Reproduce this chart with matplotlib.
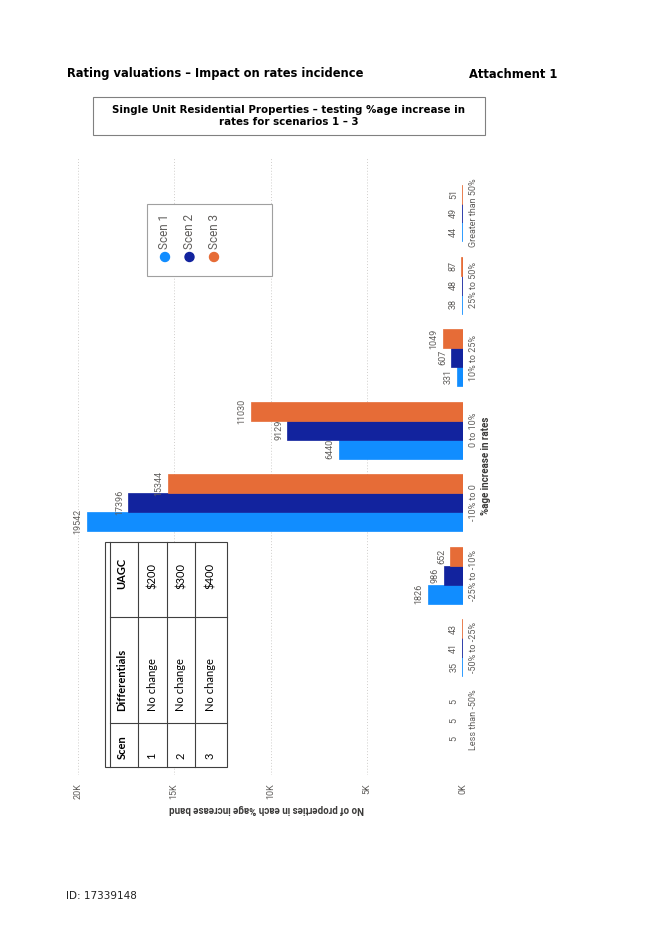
import numpy as np
import matplotlib
matplotlib.use('Agg')
import matplotlib.pyplot as plt
from matplotlib.patches import Rectangle, Circle

# Datos del grafico
categories = ['Less than -50%', '-50% to -25%', '-25% to -10%', '-10% to 0',
              '0 to 10%', '10% to 25%', '25% to 50%', 'Greater than 50%']
scen1 = [5, 35, 1826, 19542, 6440, 331, 38, 44]
scen2 = [5, 41, 986, 17396, 9129, 607, 48, 49]
scen3 = [5, 43, 652, 15344, 11030, 1049, 87, 51]
series_names = ['Scen 1', 'Scen 2', 'Scen 3']
series_colors = ['#118DFF', '#12239E', '#E66C37']
x_ticks = [0, 5000, 10000, 15000, 20000]
x_tick_labels = ['0K', '5K', '10K', '15K', '20K']

table_header = ['Scen', 'Differentials', 'UAGC']
table_scen = ['1', '2', '3']
table_diff = ['No change', 'No change', 'No change']
table_uagc = ['$200', '$300', '$400']

W, H = 645, 926
fig = plt.figure(figsize=(W / 100, H / 100), dpi=100, facecolor='white')

# ejes principales (grafico de barras rotado)
L, R, T, B = 70, 463, 157, 775
ax = fig.add_axes([L / W, 1 - B / H, (R - L) / W, (B - T) / H])
px_per_unit = 385 / 20000
ax.set_xlim((R - L) / px_per_unit, 0)
cat_step = 72.43
ax.set_ylim(-(B - 720) / cat_step, 7 + (213 - T) / cat_step)

lab_font = 'Roboto'
gray = '#605E5C'
bh = 0.262
y = np.arange(len(categories))
for i, (vals, col) in enumerate(zip([scen1, scen2, scen3], series_colors)):
    pos = y + (i - 1) * bh
    ax.barh(pos, vals, height=bh, color=col, edgecolor=col, linewidth=0.5, zorder=3)
    for p, v in zip(pos, vals):
        ax.annotate(str(v), xy=(v, p), xytext=(-3, 0), textcoords='offset points',
                    rotation=90, ha='right', va='center', fontsize=6.5,
                    color=gray, family=lab_font)

for s in ax.spines.values():
    s.set_visible(False)
ax.set_xticks(x_ticks)
ax.set_xticklabels(x_tick_labels, rotation=90, fontsize=6.5, color=gray, family=lab_font)
ax.tick_params(axis='x', length=0, pad=6)
ax.grid(axis='x', linestyle=(0, (1, 2)), color='#D0CECC', linewidth=0.7, zorder=0)

ax.yaxis.tick_right()
ax.set_yticks(y)
ax.set_yticklabels(categories, rotation=90, va='center', ha='left',
                   fontsize=6.5, color=gray, family=lab_font)
ax.tick_params(axis='y', length=0, pad=4)

# capa superior en coordenadas de pixel para textos, leyenda y tabla
ov = fig.add_axes([0, 0, 1, 1], zorder=5)
ov.set_xlim(0, W)
ov.set_ylim(H, 0)
ov.axis('off')

ov.text(67, 74, 'Rating valuations \u2013 Impact on rates incidence', fontsize=8.3,
        fontweight='bold', va='center', ha='left', color='black')
ov.text(557, 74, 'Attachment 1', fontsize=8.3, fontweight='bold', va='center',
        ha='right', color='black')
ov.add_patch(Rectangle((93, 97), 392, 38, fill=False, edgecolor='#808080', lw=0.8))
ov.text(289, 116, 'Single Unit Residential Properties \u2013 testing %age increase in\nrates for scenarios 1 \u2013 3',
        fontsize=7.4, fontweight='bold', ha='center', va='center', linespacing=1.25,
        color='black')

ov.text(486, (T + B) / 2, '%age increase in rates', rotation=90, fontsize=7,
        fontweight='bold', ha='center', va='center', color='#3B3A39', family=lab_font)
ov.text(267, 809, 'No of properties in each %age increase band', rotation=180,
        fontsize=7, fontweight='bold', ha='center', va='center', color='#3B3A39',
        family=lab_font)

# leyenda
ov.add_patch(Rectangle((147, 204), 125, 72, facecolor='white', edgecolor='#A0A0A0', lw=0.8))
for k, (name, col) in enumerate(zip(series_names, series_colors)):
    xc = 165 + 24.5 * k
    ov.add_patch(Circle((xc, 257), 4.5, color=col))
    ov.text(xc, 249, name, rotation=90, ha='center', va='bottom', fontsize=8.5,
            color=gray, family=lab_font)

# tabla
tl, tr, tt, tb = 105, 227, 542, 767
ov.add_patch(Rectangle((tl, tt), tr - tl, tb - tt, facecolor='white',
                       edgecolor='#404040', lw=0.8))
ov.plot([110, 110], [tt, tb], color='#404040', lw=0.8)
for xl in [138, 167, 195]:
    ov.plot([xl, xl], [tt, tb], color='#404040', lw=0.8)
for yl in [617, 723]:
    ov.plot([110, tr], [yl, yl], color='#404040', lw=0.8)
cell_bottoms = [759, 711, 589]
row_x = [122, 152, 181, 210]
tfont = 'Lato'
for txt, yb in zip(table_header, cell_bottoms):
    ov.text(row_x[0], yb, txt, rotation=90, ha='center', va='bottom', fontsize=8,
            fontweight='bold', family=tfont, color='black')
for r in range(3):
    for txt, yb in zip([table_scen[r], table_diff[r], table_uagc[r]], cell_bottoms):
        ov.text(row_x[r + 1], yb, txt, rotation=90, ha='center', va='bottom',
                fontsize=8, family=tfont, color='black')

ov.text(66, 896, 'ID: 17339148', fontsize=7.5, ha='left', va='center', color='#222222')

fig.savefig('out.png', dpi=100, facecolor='white')
